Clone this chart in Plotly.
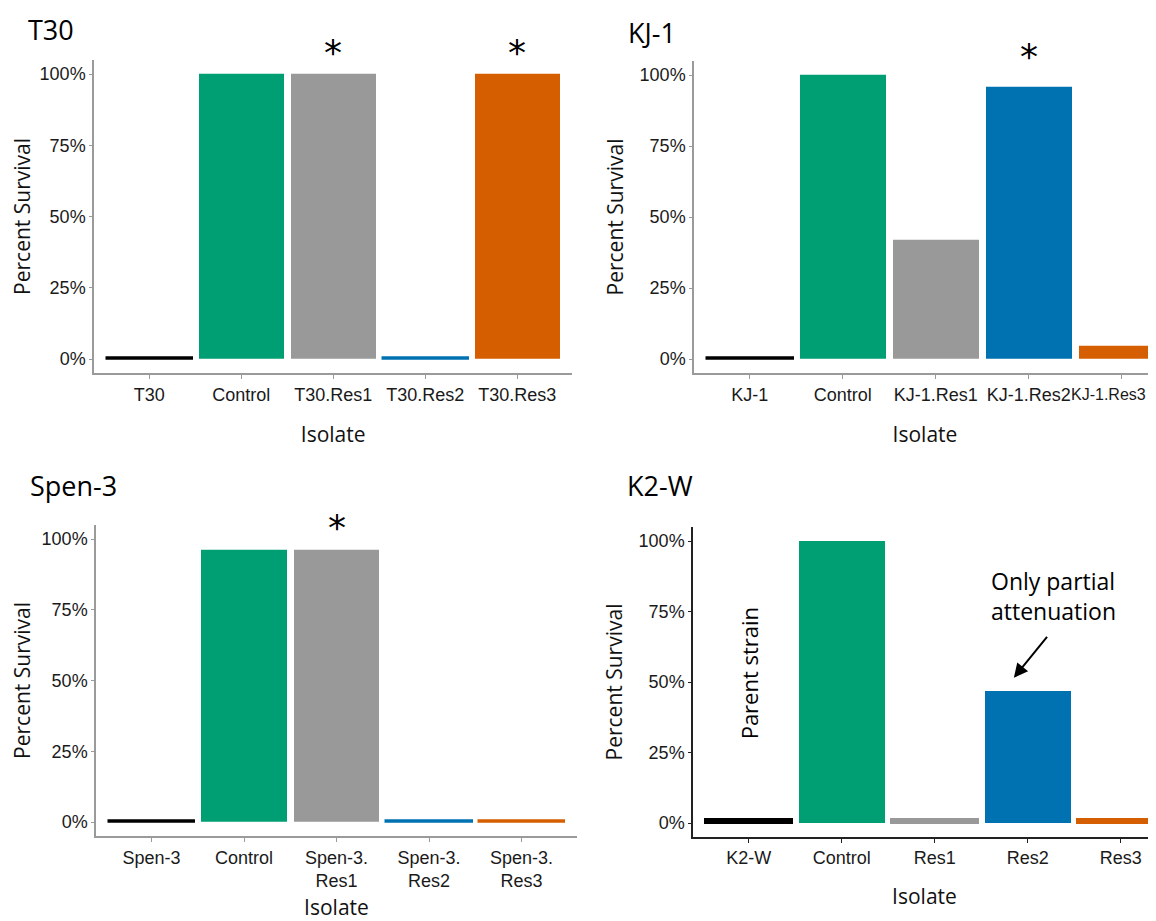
import plotly.graph_objects as go

# ---------------- data ----------------
t30_labels = ["T30", "Control", "T30.Res1", "T30.Res2", "T30.Res3"]
t30_values = [0.5, 100, 100, 0.5, 100]

kj1_labels = ["KJ-1", "Control", "KJ-1.Res1", "KJ-1.Res2", "KJ-1.Res3"]
kj1_values = [0.5, 100, 42, 96, 4.6]

spen_labels = ["Spen-3", "Control", "Spen-3.<br>Res1", "Spen-3.<br>Res2", "Spen-3.<br>Res3"]
spen_values = [0.5, 96, 96, 0.5, 0.5]

k2w_labels = ["K2-W", "Control", "Res1", "Res2", "Res3"]
k2w_values = [1, 100, 1, 47, 1]

bar_colors = ["#000000", "#009E73", "#999999", "#0072B2", "#D55E00"]

titles = ["T30", "KJ-1", "Spen-3", "K2-W"]
stars = [[2, 4], [3], [2], []]

y_ticks = [0, 25, 50, 75, 100]
y_ticktext = ["0%", "25%", "50%", "75%", "100%"]

# page is 1156x921; the html body has an 8px margin, so the figure is placed at (8, 8)
OFF = 8
W, H = 1156 - OFF, 921 - OFF

# panel geometry in page pixels
panels = [
    dict(labels=t30_labels, values=t30_values, left=94, step=92, y0=359, y100=74,
         axcol="#9a9a9a", xstand=24, title_y=30, star_shift=22),
    dict(labels=kj1_labels, values=kj1_values, left=694, step=93, y0=359, y100=75,
         axcol="#9a9a9a", xstand=24, title_y=32, star_shift=30),
    dict(labels=spen_labels, values=spen_values, left=96, step=92.5, y0=822, y100=539,
         axcol="#9a9a9a", xstand=10, title_y=485, star_shift=23),
    dict(labels=k2w_labels, values=k2w_values, left=693, step=93, y0=823, y100=541,
         axcol="#222222", xstand=22, title_y=485, star_shift=0),
]

fig = go.Figure()
annotations = []
TICKFONT = dict(family="Liberation Sans, Arial", size=18, color="#1a1a1a")
TITLEFONT = dict(family="Open Sans", size=21, color="#111111")

for i, p in enumerate(panels):
    n = i + 1
    xa = "x" if n == 1 else f"x{n}"
    ya = "y" if n == 1 else f"y{n}"
    vals = p["values"]
    lw = [2.5 if v < 2 else 0 for v in vals]
    if i == 3:
        lw = [3 if v < 2 else 0 for v in vals]
    fig.add_trace(go.Bar(
        x=list(range(5)), y=vals, width=0.92,
        marker=dict(color=bar_colors, line=dict(color=bar_colors, width=lw)),
        xaxis=xa, yaxis=ya, showlegend=False, hoverinfo="skip",
    ))
    left = p["left"] - OFF
    y0 = p["y0"] - OFF
    y100 = p["y100"] - OFF
    ppu = (y0 - y100) / 100.0
    top_px = y100 - 5 * ppu
    bot_px = y0 + 5 * ppu
    right_px = left + 5.2 * p["step"]
    xr = [-0.6, 4.6]
    clipped = False
    if right_px > W:
        xr = [-0.6, -0.6 + (W - left) / p["step"]]
        right_px = W
        clipped = True
    xdom = [left / W, right_px / W]
    ydom = [1 - bot_px / H, 1 - top_px / H]
    ticktext = list(p["labels"])
    if clipped and len(ticktext[4]) > 6:
        # last label would run past the page edge: draw it as right-anchored text
        annotations.append(dict(
            text=ticktext[4], xref="paper", yref=f"{ya} domain",
            x=1.0, y=0, xshift=-8, yshift=-21, xanchor="right", yanchor="middle",
            showarrow=False, font=dict(TICKFONT, size=16),
        ))
        ticktext[4] = ""
    xkey = "xaxis" if n == 1 else f"xaxis{n}"
    ykey = "yaxis" if n == 1 else f"yaxis{n}"
    fig.update_layout(**{
        xkey: dict(
            domain=xdom, range=xr, anchor=ya, automargin=False,
            tickmode="array", tickvals=list(range(5)), ticktext=ticktext,
            ticklabeloverflow="allow",
            showline=True, linecolor=p["axcol"], linewidth=1.5,
            ticks="outside", ticklen=4, tickcolor=p["axcol"], tickwidth=1,
            showgrid=False, zeroline=False, tickfont=TICKFONT,
            title=dict(text="Isolate", font=TITLEFONT, standoff=p["xstand"]),
            fixedrange=True,
        ),
        ykey: dict(
            domain=ydom, range=[-5, 105], anchor=xa, automargin=False,
            tickmode="array", tickvals=y_ticks, ticktext=y_ticktext,
            showline=True, linecolor=p["axcol"], linewidth=1.5,
            ticks="outside", ticklen=3, tickcolor=p["axcol"], tickwidth=1,
            showgrid=False, zeroline=False, tickfont=TICKFONT,
            title=dict(text="Percent Survival", font=TITLEFONT, standoff=10),
            fixedrange=True,
        ),
    })
    # panel title
    annotations.append(dict(
        text=titles[i], xref="paper", yref="paper",
        x=(left - 68) / W, y=1 - (p["title_y"] - OFF) / H,
        xanchor="left", yanchor="middle", showarrow=False,
        font=dict(family="Open Sans", size=27, color="#000000"),
    ))
    # significance stars
    for s in stars[i]:
        annotations.append(dict(
            text="*", xref=xa, yref=ya, x=s, y=vals[s],
            yshift=p["star_shift"], xanchor="center", yanchor="middle", showarrow=False,
            font=dict(family="DejaVu Sans", size=36, color="#000000"),
        ))

# K2-W annotations
annotations.append(dict(
    text="Parent strain", xref="x4", yref="y4", x=0, y=53,
    textangle=-90, showarrow=False, xanchor="center", yanchor="middle",
    font=dict(family="Open Sans", size=22, color="#000000"),
))
annotations.append(dict(
    text="Only partial<br>attenuation", xref="x4", yref="y4", x=3.28, y=80.5,
    showarrow=False, xanchor="center", yanchor="middle", align="left",
    font=dict(family="Open Sans", size=23, color="#000000"),
))
annotations.append(dict(
    text="", xref="x4", yref="y4", x=2.85, y=51.5, ax=3.22, ay=66.5,
    axref="x4", ayref="y4", showarrow=True, arrowhead=2, arrowsize=1.4,
    arrowwidth=2, arrowcolor="#000000",
))

fig.update_layout(
    width=W, height=H, margin=dict(l=0, r=0, t=0, b=0),
    paper_bgcolor="white", plot_bgcolor="white",
    annotations=annotations, bargap=0,
)

fig.write_html("out.html")
